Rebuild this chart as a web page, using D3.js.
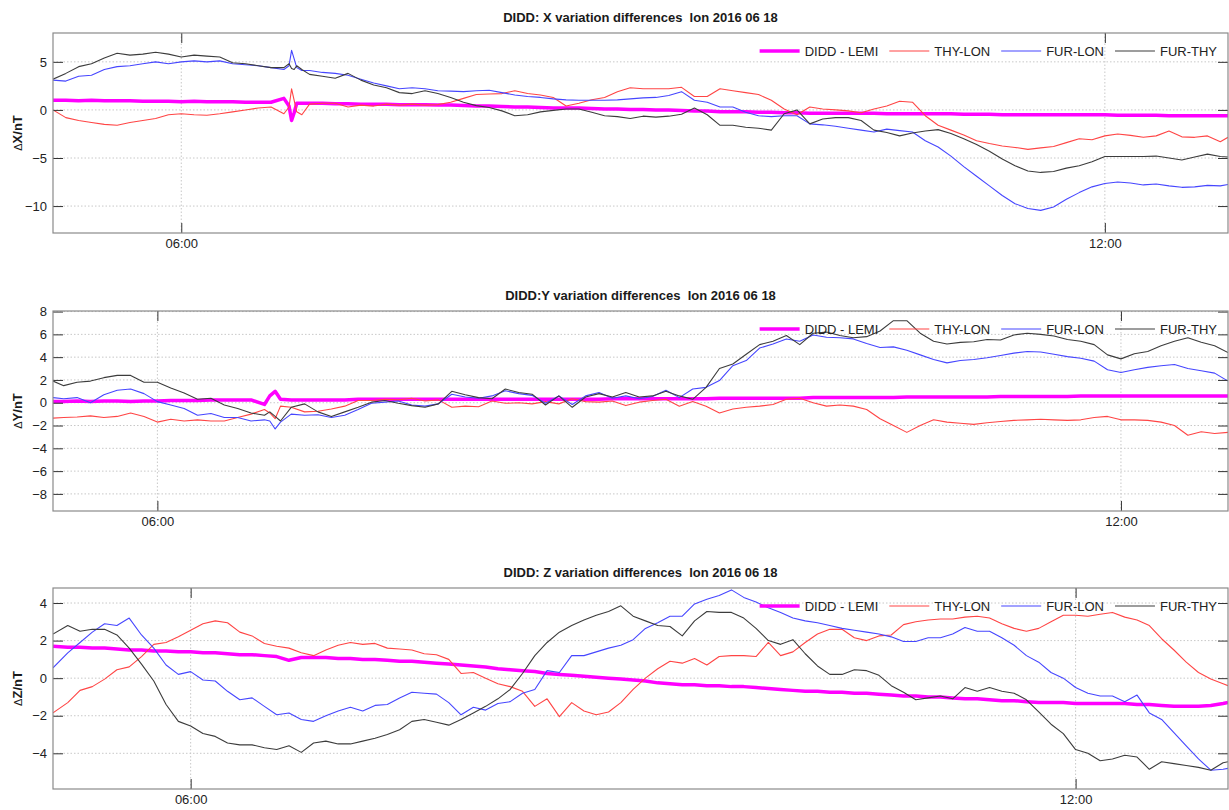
<!DOCTYPE html>
<html>
<head>
<meta charset="utf-8">
<script src="https://cdn.jsdelivr.net/npm/d3@7"></script>
<style>
  body { margin: 0; background: #fff; }
  svg { display: block; font-family: "Liberation Sans", Arial, sans-serif; }
</style>
</head>
<body>
<div id="viz"></div>
<script>
// legend names and colours, same order in every panel
const seriesNames = ["DIDD - LEMI", "THY-LON", "FUR-LON", "FUR-THY"];
const seriesColors = ["#ff00ff", "#ff4545", "#4646ff", "#3c3c3c"];

const timeTicks = ["06:00", "12:00"];

// ---- X component ----
const xTimeDomain = ["05:10", "12:48"];
const xYDomain = [-12.8, 8];
const xYTicks = [-10, -5, 0, 5];
const xTimes = ("05:10 05:15 05:20 05:25 05:30 05:35 05:40 05:45 05:50 05:55 06:00 06:05 06:10 06:15 06:20 06:25 06:30 06:35 06:40 06:42 " +
  "06:43 06:44 06:45 06:47 06:50 06:55 07:00 07:05 07:10 07:15 07:20 07:25 07:30 07:35 07:40 07:45 07:50 07:55 08:00 08:05 " +
  "08:10 08:15 08:20 08:25 08:30 08:35 08:40 08:45 08:50 08:55 09:00 09:05 09:10 09:15 09:20 09:25 09:30 09:35 09:40 09:45 " +
  "09:50 09:55 10:00 10:05 10:10 10:15 10:20 10:25 10:30 10:35 10:40 10:45 10:50 10:55 11:00 11:05 11:10 11:15 11:20 11:25 " +
  "11:30 11:35 11:40 11:45 11:50 11:55 12:00 12:05 12:10 12:15 12:20 12:25 12:30 12:35 12:40 12:45 12:48").split(" ");
const xDiddLemi = [1.0,1.0,0.95,1.0,0.95,0.95,0.95,0.9,0.9,0.9, 0.85,0.9,0.85,0.85,0.85,0.8,0.8,0.8,1.2,0.4,
  -1.1,-0.3,0.7,0.7,0.7,0.7,0.65,0.65,0.6,0.6, 0.6,0.55,0.55,0.55,0.5,0.5,0.45,0.4,0.4,0.35,
  0.3,0.3,0.25,0.2,0.2,0.2,0.15,0.1,0.1,0.05, 0.05,0.0,0.0,-0.05,-0.1,-0.1,-0.2,-0.2,-0.2,-0.25,
  -0.25,-0.3,-0.3,-0.35,-0.35,-0.35,-0.35,-0.35,-0.35,-0.4, -0.4,-0.4,-0.4,-0.4,-0.4,-0.45,-0.45,-0.45,-0.5,-0.5,
  -0.5,-0.5,-0.5,-0.5,-0.5,-0.5,-0.5,-0.55,-0.55,-0.55, -0.55,-0.6,-0.6,-0.6,-0.6,-0.6,-0.6];
const xThyLon = [0.0,-0.8,-1.1,-1.3,-1.5,-1.6,-1.3,-1.1,-0.9,-0.5, -0.4,-0.5,-0.55,-0.4,-0.2,0.0,0.2,0.3,-0.4,0.3,
  2.2,1.0,-0.2,-0.5,0.6,0.7,0.7,0.3,0.5,0.4, 0.6,0.5,0.6,0.5,0.55,0.8,1.2,1.6,1.65,1.7,
  2.0,1.7,1.55,1.3,0.4,0.7,1.05,1.3,1.9,2.3, 2.2,2.2,2.2,2.35,1.4,1.4,2.2,2.0,1.8,1.6,
  1.0,0.1,-0.5,0.3,0.1,0.0,-0.1,-0.3,0.1,0.4, 0.9,0.8,-0.6,-1.6,-2.1,-2.6,-3.2,-3.5,-3.75,-3.9,
  -4.1,-3.95,-3.8,-3.4,-3.0,-3.1,-2.7,-2.5,-2.65,-2.85, -2.7,-2.2,-2.8,-2.85,-2.7,-3.3,-2.85];
const xFurLon = [3.1,3.0,3.5,3.6,4.2,4.5,4.6,4.8,5.0,4.8, 5.0,5.1,5.0,5.1,4.8,4.7,4.6,4.4,4.2,4.6,
  6.2,5.3,4.4,4.1,4.1,3.9,3.8,3.6,3.2,2.8, 2.5,2.2,2.3,2.2,2.0,1.95,1.9,2.0,2.05,1.8,
  1.55,1.4,1.3,1.15,1.05,1.0,1.0,1.0,1.05,1.15, 1.25,1.3,1.5,1.9,1.0,0.8,0.3,0.3,-0.25,-0.6,
  -0.7,-0.6,-0.6,-1.45,-1.55,-1.7,-1.9,-2.1,-2.3,-2.0, -2.15,-2.3,-3.2,-3.85,-4.8,-5.9,-6.9,-7.9,-8.9,-9.75,
  -10.25,-10.45,-10.1,-9.3,-8.6,-8.0,-7.65,-7.5,-7.6,-7.8, -7.7,-7.9,-8.05,-8.0,-7.85,-7.9,-7.75];
const xFurThy = [3.2,3.8,4.5,4.8,5.4,5.9,5.7,5.8,6.0,5.8, 5.5,5.7,5.6,5.5,4.9,4.8,4.6,4.4,4.4,4.8,
  4.3,4.2,4.6,4.2,3.7,3.5,3.3,3.8,3.1,2.6, 2.3,1.8,1.7,2.0,1.7,1.3,0.8,0.45,0.25,-0.1,
  -0.6,-0.5,-0.2,-0.05,0.1,0.1,-0.25,-0.6,-0.7,-0.9, -0.65,-0.75,-0.65,-0.45,0.2,-0.5,-1.6,-1.6,-1.8,-1.9,
  -2.1,-0.4,0.0,-1.45,-0.95,-0.8,-0.8,-1.1,-2.1,-2.35, -2.7,-2.4,-2.2,-2.05,-2.45,-3.0,-3.6,-4.3,-5.1,-5.8,
  -6.35,-6.5,-6.4,-6.05,-5.8,-5.4,-4.85,-4.85,-4.85,-4.85, -4.8,-5.0,-5.2,-4.9,-4.6,-4.85,-4.9];

// ---- Y component ----
const yTimeDomain = ["05:21", "12:40"];
const yYDomain = [-9.5, 8.05];
const yYTicks = [-8, -6, -4, -2, 0, 2, 4, 6, 8];
const yTimes = ("05:21 05:25 05:30 05:35 05:40 05:45 05:50 05:55 06:00 06:05 06:10 06:15 06:20 06:25 06:30 06:35 06:40 06:42 06:44 06:46 " +
  "06:50 06:55 07:00 07:05 07:10 07:15 07:20 07:25 07:30 07:35 07:40 07:45 07:50 07:55 08:00 08:05 08:10 08:15 08:20 08:25 " +
  "08:30 08:35 08:40 08:45 08:50 08:55 09:00 09:05 09:10 09:15 09:20 09:25 09:30 09:35 09:40 09:45 09:50 09:55 10:00 10:05 " +
  "10:10 10:15 10:20 10:25 10:30 10:35 10:40 10:45 10:50 10:55 11:00 11:05 11:10 11:15 11:20 11:25 11:30 11:35 11:40 11:45 " +
  "11:50 11:55 12:00 12:05 12:10 12:15 12:20 12:25 12:30 12:35 12:40").split(" ");
const yDiddLemi = [0.1,0.1,0.15,0.1,0.15,0.15,0.1,0.15,0.15,0.2, 0.2,0.2,0.25,0.25,0.25,0.25,-0.15,0.6,1.0,0.3,
  0.25,0.25,0.25,0.25,0.25,0.3,0.3,0.3,0.3,0.3, 0.3,0.3,0.3,0.3,0.3,0.3,0.3,0.3,0.3,0.3,
  0.3,0.3,0.3,0.3,0.35,0.35,0.35,0.35,0.35,0.35, 0.35,0.35,0.4,0.4,0.4,0.4,0.4,0.4,0.4,0.45,
  0.45,0.45,0.45,0.45,0.45,0.45,0.5,0.5,0.5,0.5, 0.5,0.5,0.5,0.55,0.55,0.55,0.55,0.55,0.55,0.6,
  0.6,0.6,0.6,0.6,0.6,0.6,0.6,0.6,0.6,0.6,0.6];
const yThyLon = [-1.35,-1.3,-1.25,-1.15,-1.3,-1.2,-0.9,-1.2,-1.7,-1.45, -1.6,-1.5,-1.6,-1.6,-1.3,-1.0,-0.6,-0.9,-1.4,-0.3,
  -0.4,-0.8,-0.75,-0.55,-0.3,0.2,0.2,0.3,0.25,0.4, 0.15,0.25,-0.4,-0.3,-0.35,0.15,-0.05,0.0,-0.1,0.1,
  -0.1,0.35,0.1,0.05,0.15,-0.25,0.05,0.2,0.3,-0.3, 0.1,-0.3,-0.9,-0.55,-0.4,-0.3,-0.15,0.3,0.4,0.0,
  -0.3,-0.2,-0.3,-0.6,-1.4,-2.0,-2.6,-2.0,-1.5,-1.7, -1.8,-1.9,-1.75,-1.65,-1.55,-1.5,-1.45,-1.5,-1.55,-1.5,
  -1.3,-1.2,-1.5,-1.5,-1.55,-1.7,-2.0,-2.85,-2.55,-2.7,-2.6];
const yFurLon = [0.45,0.35,0.45,0.0,0.7,1.1,1.2,0.8,0.1,-0.2, -0.5,-1.1,-0.95,-1.3,-1.3,-1.6,-1.5,-1.6,-2.3,-1.7,
  -1.0,-1.1,-1.05,-1.3,-1.1,-0.6,-0.05,0.05,0.15,-0.2, -0.3,-0.1,0.75,0.5,0.4,0.6,1.05,0.8,0.65,-0.05,
  0.6,-0.15,0.6,0.9,0.4,0.6,0.35,0.55,1.1,0.45, 1.2,1.35,1.95,3.25,3.7,4.8,5.15,5.6,5.4,5.95,
  5.75,5.7,5.6,5.2,4.85,4.9,4.6,4.2,3.8,3.5, 3.7,3.8,3.95,4.15,4.35,4.5,4.45,4.25,4.05,3.9,
  3.65,2.9,2.65,2.9,3.1,3.25,3.35,3.0,2.8,2.6,1.9];
const yFurThy = [1.9,1.5,1.8,1.9,2.2,2.4,2.4,1.8,1.8,1.3, 0.85,0.3,0.4,-0.2,-0.5,-0.9,-1.1,-0.8,-1.2,-1.6,
  -0.4,-0.1,-0.8,-1.2,-0.8,-0.4,0.05,0.2,-0.05,-0.25, -0.4,-0.1,1.0,0.7,0.45,0.35,1.2,0.9,0.75,-0.2,
  0.6,-0.4,0.5,0.8,0.5,0.9,0.5,0.6,1.0,0.6, 0.3,1.35,3.0,3.4,4.25,5.1,5.4,5.9,5.1,6.1,
  6.2,5.9,5.7,5.8,6.3,7.2,7.2,6.1,5.4,5.15, 5.3,5.35,5.55,5.5,5.95,6.1,6.0,5.85,5.55,5.4,
  5.1,4.2,3.85,4.3,4.5,5.0,5.4,5.7,5.3,5.0,4.4];

// ---- Z component ----
const zTimeDomain = ["05:04", "13:02"];
const zYDomain = [-5.9, 4.8];
const zYTicks = [-4, -2, 0, 2, 4];
const zTimes = ("05:04 05:10 05:15 05:20 05:25 05:30 05:35 05:40 05:45 05:50 05:55 06:00 06:05 06:10 06:15 06:20 06:25 06:30 06:35 06:40 " +
  "06:45 06:50 06:55 07:00 07:05 07:10 07:15 07:20 07:25 07:30 07:35 07:40 07:45 07:50 07:55 08:00 08:05 08:10 08:15 08:20 " +
  "08:25 08:30 08:35 08:40 08:45 08:50 08:55 09:00 09:05 09:10 09:15 09:20 09:25 09:30 09:35 09:40 09:45 09:50 09:55 10:00 " +
  "10:05 10:10 10:15 10:20 10:25 10:30 10:35 10:40 10:45 10:50 10:55 11:00 11:05 11:10 11:15 11:20 11:25 11:30 11:35 11:40 " +
  "11:45 11:50 11:55 12:00 12:05 12:10 12:15 12:20 12:25 12:30 12:35 12:40 12:45 12:50 12:55 13:00 13:02").split(" ");
const zDiddLemi = [1.7,1.65,1.65,1.6,1.6,1.55,1.5,1.5,1.45,1.45, 1.4,1.4,1.35,1.35,1.3,1.25,1.25,1.2,1.15,0.95,
  1.1,1.1,1.1,1.05,1.05,1.0,1.0,0.95,0.9,0.9, 0.85,0.8,0.75,0.7,0.65,0.6,0.5,0.45,0.4,0.35,
  0.25,0.2,0.15,0.1,0.05,0.0,-0.05,-0.1,-0.15,-0.25, -0.3,-0.35,-0.35,-0.4,-0.4,-0.45,-0.45,-0.5,-0.55,-0.6,
  -0.65,-0.7,-0.7,-0.75,-0.75,-0.8,-0.8,-0.85,-0.9,-0.95, -0.95,-1.0,-1.0,-1.05,-1.1,-1.1,-1.15,-1.2,-1.2,-1.25,
  -1.3,-1.3,-1.3,-1.35,-1.35,-1.35,-1.35,-1.35,-1.4,-1.4, -1.45,-1.5,-1.5,-1.5,-1.45,-1.35,-1.3];
const zThyLon = [-1.85,-1.3,-0.65,-0.45,-0.05,0.45,0.6,1.15,1.8,1.9, 2.2,2.55,2.9,3.05,2.95,2.45,2.25,1.85,1.7,1.6,
  1.35,1.2,1.5,1.75,1.9,1.8,1.85,1.6,1.55,1.5, 1.3,1.25,1.0,0.25,0.3,0.0,-0.3,-0.45,-0.7,-1.5,
  -1.1,-2.05,-1.3,-1.75,-1.95,-1.8,-1.3,-0.6,0.0,0.5, 0.9,0.8,1.05,0.7,1.15,1.2,1.2,1.15,1.9,1.2,
  1.4,1.9,2.35,2.6,2.6,2.15,2.0,2.25,2.3,2.85, 3.0,3.1,3.15,3.15,3.25,3.3,3.2,2.9,2.65,2.5,
  2.65,3.0,3.35,3.35,3.3,3.4,3.5,3.25,3.1,2.8, 2.1,1.5,0.85,0.3,-0.05,-0.3,-0.4];
const zFurLon = [0.55,1.35,1.9,2.45,2.9,2.8,3.2,2.3,1.6,0.7, 0.2,0.35,-0.1,-0.15,-0.7,-1.15,-1.05,-1.5,-1.95,-1.85,
  -2.2,-2.3,-2.0,-1.75,-1.55,-1.75,-1.45,-1.4,-1.05,-0.75, -0.8,-0.85,-1.3,-1.95,-1.55,-1.7,-1.35,-1.25,-0.8,-0.6,
  0.4,0.3,1.2,1.2,1.4,1.6,1.75,2.05,2.65,2.95, 3.3,3.3,3.95,4.2,4.4,4.7,4.3,4.05,3.75,3.5,
  3.2,3.05,2.95,2.8,2.65,2.55,2.45,2.35,2.2,1.95, 1.95,2.15,2.15,2.35,2.7,2.5,2.5,2.15,1.75,1.2,
  0.85,0.3,0.0,-0.5,-0.8,-0.95,-0.95,-1.25,-0.9,-1.85, -2.2,-2.9,-3.6,-4.3,-4.9,-4.85,-4.8];
const zFurThy = [2.35,2.8,2.5,2.6,2.6,2.3,1.6,0.75,-0.15,-1.4, -2.3,-2.55,-2.95,-3.1,-3.45,-3.55,-3.55,-3.7,-3.8,-3.6,
  -3.95,-3.45,-3.35,-3.5,-3.5,-3.35,-3.2,-3.0,-2.75,-2.3, -2.2,-2.35,-2.5,-2.2,-1.85,-1.5,-1.1,-0.6,0.25,1.2,
  1.9,2.45,2.8,3.1,3.35,3.55,3.85,3.3,3.05,2.8, 2.75,2.25,3.05,3.55,3.5,3.5,3.2,2.65,2.0,1.8,
  2.05,1.3,0.65,0.2,0.2,0.45,0.4,0.15,-0.4,-0.75, -1.15,-1.05,-0.95,-1.1,-0.5,-0.7,-0.5,-0.7,-0.8,-1.15,
  -1.8,-2.45,-2.95,-3.8,-4.0,-4.4,-4.3,-4.1,-4.2,-4.85, -4.45,-4.55,-4.65,-4.75,-4.9,-4.5,-4.45];

const panels = [
  { title: "DIDD: X variation differences  lon 2016 06 18", label: "X/nT", times: xTimes,
    series: [xDiddLemi, xThyLon, xFurLon, xFurThy], xDomain: xTimeDomain, yDomain: xYDomain, yTicks: xYTicks, top: 33, bottom: 233 },
  { title: "DIDD:Y variation differences  lon 2016 06 18", label: "Y/nT", times: yTimes,
    series: [yDiddLemi, yThyLon, yFurLon, yFurThy], xDomain: yTimeDomain, yDomain: yYDomain, yTicks: yYTicks, top: 311, bottom: 511 },
  { title: "DIDD: Z variation differences  lon 2016 06 18", label: "Z/nT", times: zTimes,
    series: [zDiddLemi, zThyLon, zFurLon, zFurThy], xDomain: zTimeDomain, yDomain: zYDomain, yTicks: zYTicks, top: 588, bottom: 789 }
];

const width = 1229, height = 810;
const left = 53, right = 1228;
const tickLen = 10;

const parseTime = d3.timeParse("%H:%M");
const formatTime = d3.timeFormat("%H:%M");

const svg = d3.select("#viz").append("svg")
    .attr("width", width)
    .attr("height", height);

panels.forEach((p, pi) => {
    const x = d3.scaleTime()
        .domain(p.xDomain.map(parseTime))
        .range([left, right]);
    const y = d3.scaleLinear()
        .domain(p.yDomain)
        .range([p.bottom, p.top]);
    const xTickDates = timeTicks.map(parseTime);

    const g = svg.append("g").attr("class", "panel");

    // dotted grid
    g.selectAll(".hgrid")
        .data(p.yTicks)
        .join("line")
            .attr("class", "hgrid")
            .attr("x1", left).attr("x2", right)
            .attr("y1", d => y(d)).attr("y2", d => y(d))
            .attr("stroke", "#c8c8c8")
            .attr("stroke-dasharray", "1.5,2");
    g.selectAll(".vgrid")
        .data(xTickDates)
        .join("line")
            .attr("class", "vgrid")
            .attr("x1", d => x(d)).attr("x2", d => x(d))
            .attr("y1", p.top).attr("y2", p.bottom)
            .attr("stroke", "#c8c8c8")
            .attr("stroke-dasharray", "1.5,2");

    // data lines
    svg.append("clipPath").attr("id", "clip" + pi)
        .append("rect")
            .attr("x", left).attr("y", p.top)
            .attr("width", right - left).attr("height", p.bottom - p.top);

    const line = d3.line()
        .x((d, i) => x(parseTime(p.times[i])))
        .y(d => y(d));

    g.append("g")
        .attr("clip-path", `url(#clip${pi})`)
        .selectAll("path")
        .data(p.series)
        .join("path")
            .attr("fill", "none")
            .attr("stroke", (d, i) => seriesColors[i])
            .attr("stroke-width", (d, i) => i === 0 ? 3.5 : 1.1)
            .attr("stroke-linejoin", "round")
            .attr("d", line);

    // axes, ticks pointing inwards
    const axisStyle = sel => {
        sel.select(".domain").remove();
        sel.selectAll(".tick line").attr("stroke", "#333");
        sel.selectAll(".tick text")
            .attr("fill", "#222")
            .style("font-size", "13px")
            .style("font-family", '"Liberation Sans", Arial, sans-serif');
    };
    g.append("g")
        .attr("transform", `translate(${left},0)`)
        .call(d3.axisLeft(y).tickValues(p.yTicks).tickSize(-tickLen).tickPadding(6))
        .call(axisStyle);
    g.append("g")
        .attr("transform", `translate(${right},0)`)
        .call(d3.axisRight(y).tickValues(p.yTicks).tickSize(-tickLen).tickFormat(""))
        .call(axisStyle);
    g.append("g")
        .attr("transform", `translate(0,${p.bottom})`)
        .call(d3.axisBottom(x).tickValues(xTickDates).tickFormat(formatTime).tickSize(-tickLen).tickPadding(6))
        .call(axisStyle);
    g.append("g")
        .attr("transform", `translate(0,${p.top})`)
        .call(d3.axisTop(x).tickValues(xTickDates).tickSize(-tickLen).tickFormat(""))
        .call(axisStyle);

    // frame
    g.append("rect")
        .attr("x", left).attr("y", p.top)
        .attr("width", right - left).attr("height", p.bottom - p.top)
        .attr("fill", "none")
        .attr("stroke", "#8a8a8a")
        .attr("stroke-width", 1.2);

    // title and y label
    g.append("text")
        .attr("x", (left + right) / 2)
        .attr("y", p.top - 11)
        .attr("text-anchor", "middle")
        .style("font-size", "13px")
        .style("font-weight", "bold")
        .style("white-space", "pre")
        .attr("fill", "#1a1a1a")
        .text(p.title);

    const lab = g.append("text")
        .attr("transform", `translate(22,${(p.top + p.bottom) / 2}) rotate(-90)`)
        .attr("text-anchor", "middle")
        .attr("fill", "#1a1a1a");
    lab.append("tspan")
        .style("font-size", "11px")
        .text("\u0394");
    lab.append("tspan")
        .style("font-size", "13px")
        .style("font-weight", "bold")
        .text(p.label);

    // legend, laid out from the right edge
    const ly = p.top + 18;
    const lg = g.append("g").attr("class", "legend");
    let xEnd = right - 11;
    for (let k = seriesNames.length - 1; k >= 0; k--) {
        const t = lg.append("text")
            .attr("y", ly + 5)
            .style("font-size", "13px")
            .attr("fill", "#222")
            .text(seriesNames[k]);
        const w = t.node().getComputedTextLength();
        const tx = xEnd - w;
        t.attr("x", tx);
        lg.append("line")
            .attr("x1", tx - 45).attr("x2", tx - 5)
            .attr("y1", ly).attr("y2", ly)
            .attr("stroke", seriesColors[k])
            .attr("stroke-width", k === 0 ? 3.5 : 1.1);
        xEnd = tx - 45 - 11;
    }
});
</script>
</body>
</html>
